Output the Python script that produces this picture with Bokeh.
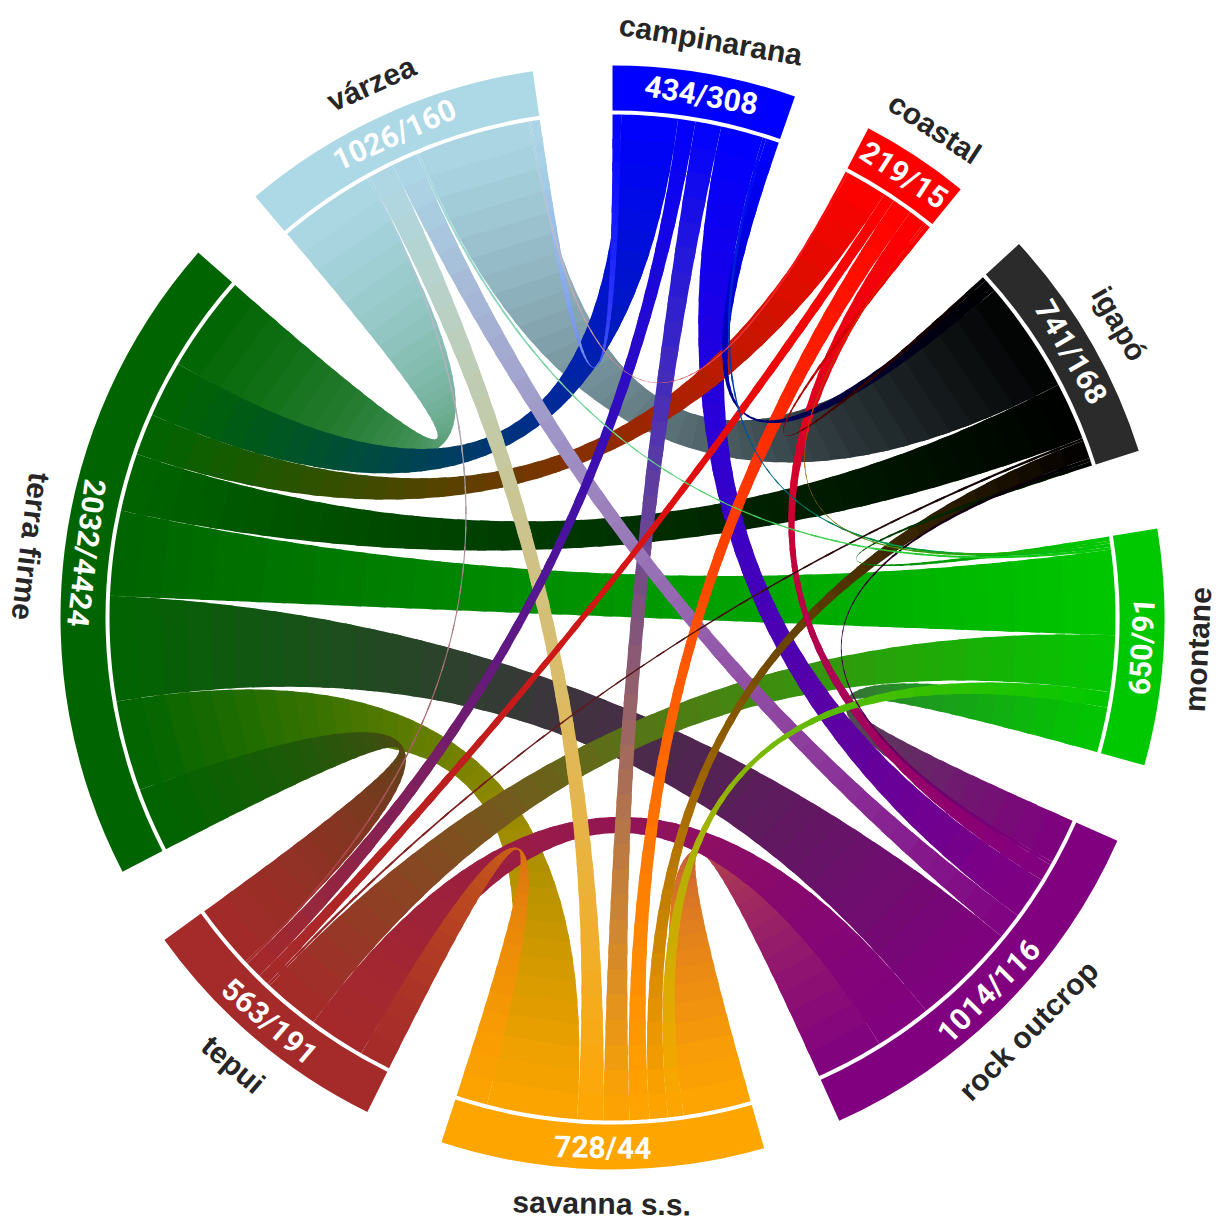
import numpy as np
from bokeh.plotting import figure
from bokeh.models import Range1d
from bokeh.embed import file_html
from bokeh.resources import INLINE
from bokeh.core.properties import value

# ---------------- data ----------------
sectors = ["campinarana", "coastal", "igapó", "montane", "rock outcrop",
           "savanna s.s.", "tepui", "terra firme", "várzea"]
counts = ["434/308", "219/15", "741/168", "650/91", "1014/116",
          "728/44", "563/191", "2032/4424", "1026/160"]
band_colors = ["#0000FF", "#FF0000", "#2B2B2B", "#00C800", "#800080",
               "#FFA500", "#A52A2A", "#006400", "#ADD8E6"]
chord_colors = ["#0000FF", "#FF0000", "#000000", "#00C800", "#800080",
                "#FFA500", "#A52A2A", "#006400", "#ADD8E6"]

link_a = ["campinarana", "campinarana", "campinarana", "campinarana", "campinarana", "campinarana", "campinarana",
          "coastal", "coastal", "coastal", "coastal", "coastal", "coastal", "coastal",
          "igapó", "igapó", "igapó", "igapó", "igapó", "igapó",
          "montane", "montane", "montane", "montane", "montane",
          "rock outcrop", "rock outcrop", "rock outcrop", "rock outcrop",
          "savanna s.s.", "savanna s.s.", "savanna s.s.",
          "tepui", "tepui",
          "terra firme"]
link_b = ["igapó", "montane", "rock outcrop", "savanna s.s.", "tepui", "terra firme", "várzea",
          "igapó", "montane", "rock outcrop", "savanna s.s.", "tepui", "terra firme", "várzea",
          "montane", "rock outcrop", "savanna s.s.", "tepui", "terra firme", "várzea",
          "rock outcrop", "savanna s.s.", "tepui", "terra firme", "várzea",
          "savanna s.s.", "tepui", "terra firme", "várzea",
          "tepui", "terra firme", "várzea",
          "terra firme", "várzea",
          "várzea"]
link_v = [1.5, 0.4, 4.9, 3.0, 2.0, 6.5, 1.0,
          0.5, 0.3, 2.0, 2.3, 1.3, 4.8, 0.3,
          0.5, 0.4, 2.1, 0.3, 6.7, 13.0,
          5.2, 1.8, 6.5, 9.8, 0.3,
          7.8, 6.5, 12.1, 3.0,
          3.6, 10.4, 3.0,
          7.4, 0.3,
          11.1]

# ---------------- layout ----------------
W, H = 1227, 1225
CX, CY = 612.0, 608.0
R_LINK = 503.0
R_IN, R_OUT = 507.0, 552.0
R_COUNT = 530.0
R_NAME = 586.0

n = len(sectors)
idx = {s: i for i, s in enumerate(sectors)}
tot = np.zeros(n)
for a, b, v in zip(link_a, link_b, link_v):
    tot[idx[a]] += v
    tot[idx[b]] += v
gap = (360.0 - tot.sum()) / n
start = np.zeros(n)
s = 90.0
for i in range(n):
    start[i] = s
    s -= tot[i] + gap
end = start - tot

pos = {}
for i in range(n):
    items = []
    for k, (a, b, v) in enumerate(zip(link_a, link_b, link_v)):
        ia, ib = idx[a], idx[b]
        if ia == i:
            items.append(((i - ib) % n, k, v))
        elif ib == i:
            items.append(((i - ia) % n, k, v))
    items.sort()
    off = 0.0
    for _, k, v in items:
        hi = start[i] - off
        pos[(i, k)] = (hi, hi - v)
        off += v


def pt(deg, r=R_LINK):
    t = np.deg2rad(deg)
    return np.array([r * np.cos(t), r * np.sin(t)])


def bez(p0, p1, t):
    t = np.asarray(t)[:, None]
    return (1 - t) ** 2 * p0[None, :] + t ** 2 * p1[None, :]


def hex2rgb(h):
    return np.array([int(h[1:3], 16), int(h[3:5], 16), int(h[5:7], 16)], float)


def rgb2hex(c):
    c = np.clip(np.round(c), 0, 255).astype(int)
    return "#%02x%02x%02x" % tuple(c)


xs, ys, cols = [], [], []
NSEG = 40
order = np.argsort(-np.array(link_v), kind="stable")
for k in order:
    ia, ib = idx[link_a[k]], idx[link_b[k]]
    a_hi, a_lo = pos[(ia, k)]
    b_hi, b_lo = pos[(ib, k)]
    s1a, s1b = pt(a_hi), pt(b_lo)
    s2a, s2b = pt(a_lo), pt(b_hi)
    ca, cb = hex2rgb(chord_colors[ia]), hex2rgb(chord_colors[ib])
    edges = np.linspace(0, 1, NSEG + 1)
    for m in range(NSEG):
        t0 = edges[m]
        t1 = min(1.0, edges[m + 1] + 0.4 / NSEG)
        tt = np.linspace(t0, t1, 5)
        side1 = bez(s1a, s1b, tt)
        side2 = bez(s2a, s2b, tt)[::-1]
        parts = [side1]
        if m == NSEG - 1:
            parts.append(np.array([pt(d) for d in np.linspace(b_lo, b_hi, 12)]))
        parts.append(side2)
        if m == 0:
            parts.append(np.array([pt(d) for d in np.linspace(a_lo, a_hi, 12)]))
        poly = np.vstack(parts)
        xs.append(list(poly[:, 0] + CX))
        ys.append(list(poly[:, 1] + CY))
        tm = 0.5 * (t0 + t1)
        cols.append(rgb2hex(ca * (1 - tm) + cb * tm))

# ---------------- figure ----------------
p = figure(width=W, height=H, x_range=Range1d(0, W), y_range=Range1d(0, H),
           output_backend="svg", toolbar_location=None, min_border=0)
p.axis.visible = False
p.grid.visible = False
p.outline_line_color = None
p.background_fill_color = "white"
p.border_fill_color = "white"

p.patches(xs=xs, ys=ys, fill_color=cols, line_color=None, fill_alpha=1.0)

p.annular_wedge(x=[CX] * n, y=[CY] * n, inner_radius=R_IN, outer_radius=R_OUT,
                start_angle=list(np.deg2rad(end)), end_angle=list(np.deg2rad(start)),
                direction="anticlock", fill_color=band_colors, line_color=None)

mid = (start + end) / 2.0
tx_c, ty_c, tx_n, ty_n, ang = [], [], [], [], []
for i in range(n):
    phi = (90.0 - mid[i]) % 360.0
    a = mid[i] + 90.0 if 90.0 < phi < 290.0 else mid[i] - 90.0
    ang.append(np.deg2rad(a))
    pc = pt(mid[i], R_COUNT)
    pn = pt(mid[i], R_NAME)
    tx_c.append(pc[0] + CX); ty_c.append(pc[1] + CY)
    tx_n.append(pn[0] + CX); ty_n.append(pn[1] + CY)

p.text(x=tx_c, y=ty_c, text=counts, angle=ang, text_align="center", text_baseline="middle",
       text_color="white", text_font=value("Roboto"), text_font_style="bold",
       text_font_size="30px")
p.text(x=tx_n, y=ty_n, text=sectors, angle=ang, text_align="center", text_baseline="middle",
       text_color="#262626", text_font=value("Liberation Sans"), text_font_style="bold",
       text_font_size="30px")

open("out.html", "w", encoding="utf-8").write(file_html(p, INLINE))
